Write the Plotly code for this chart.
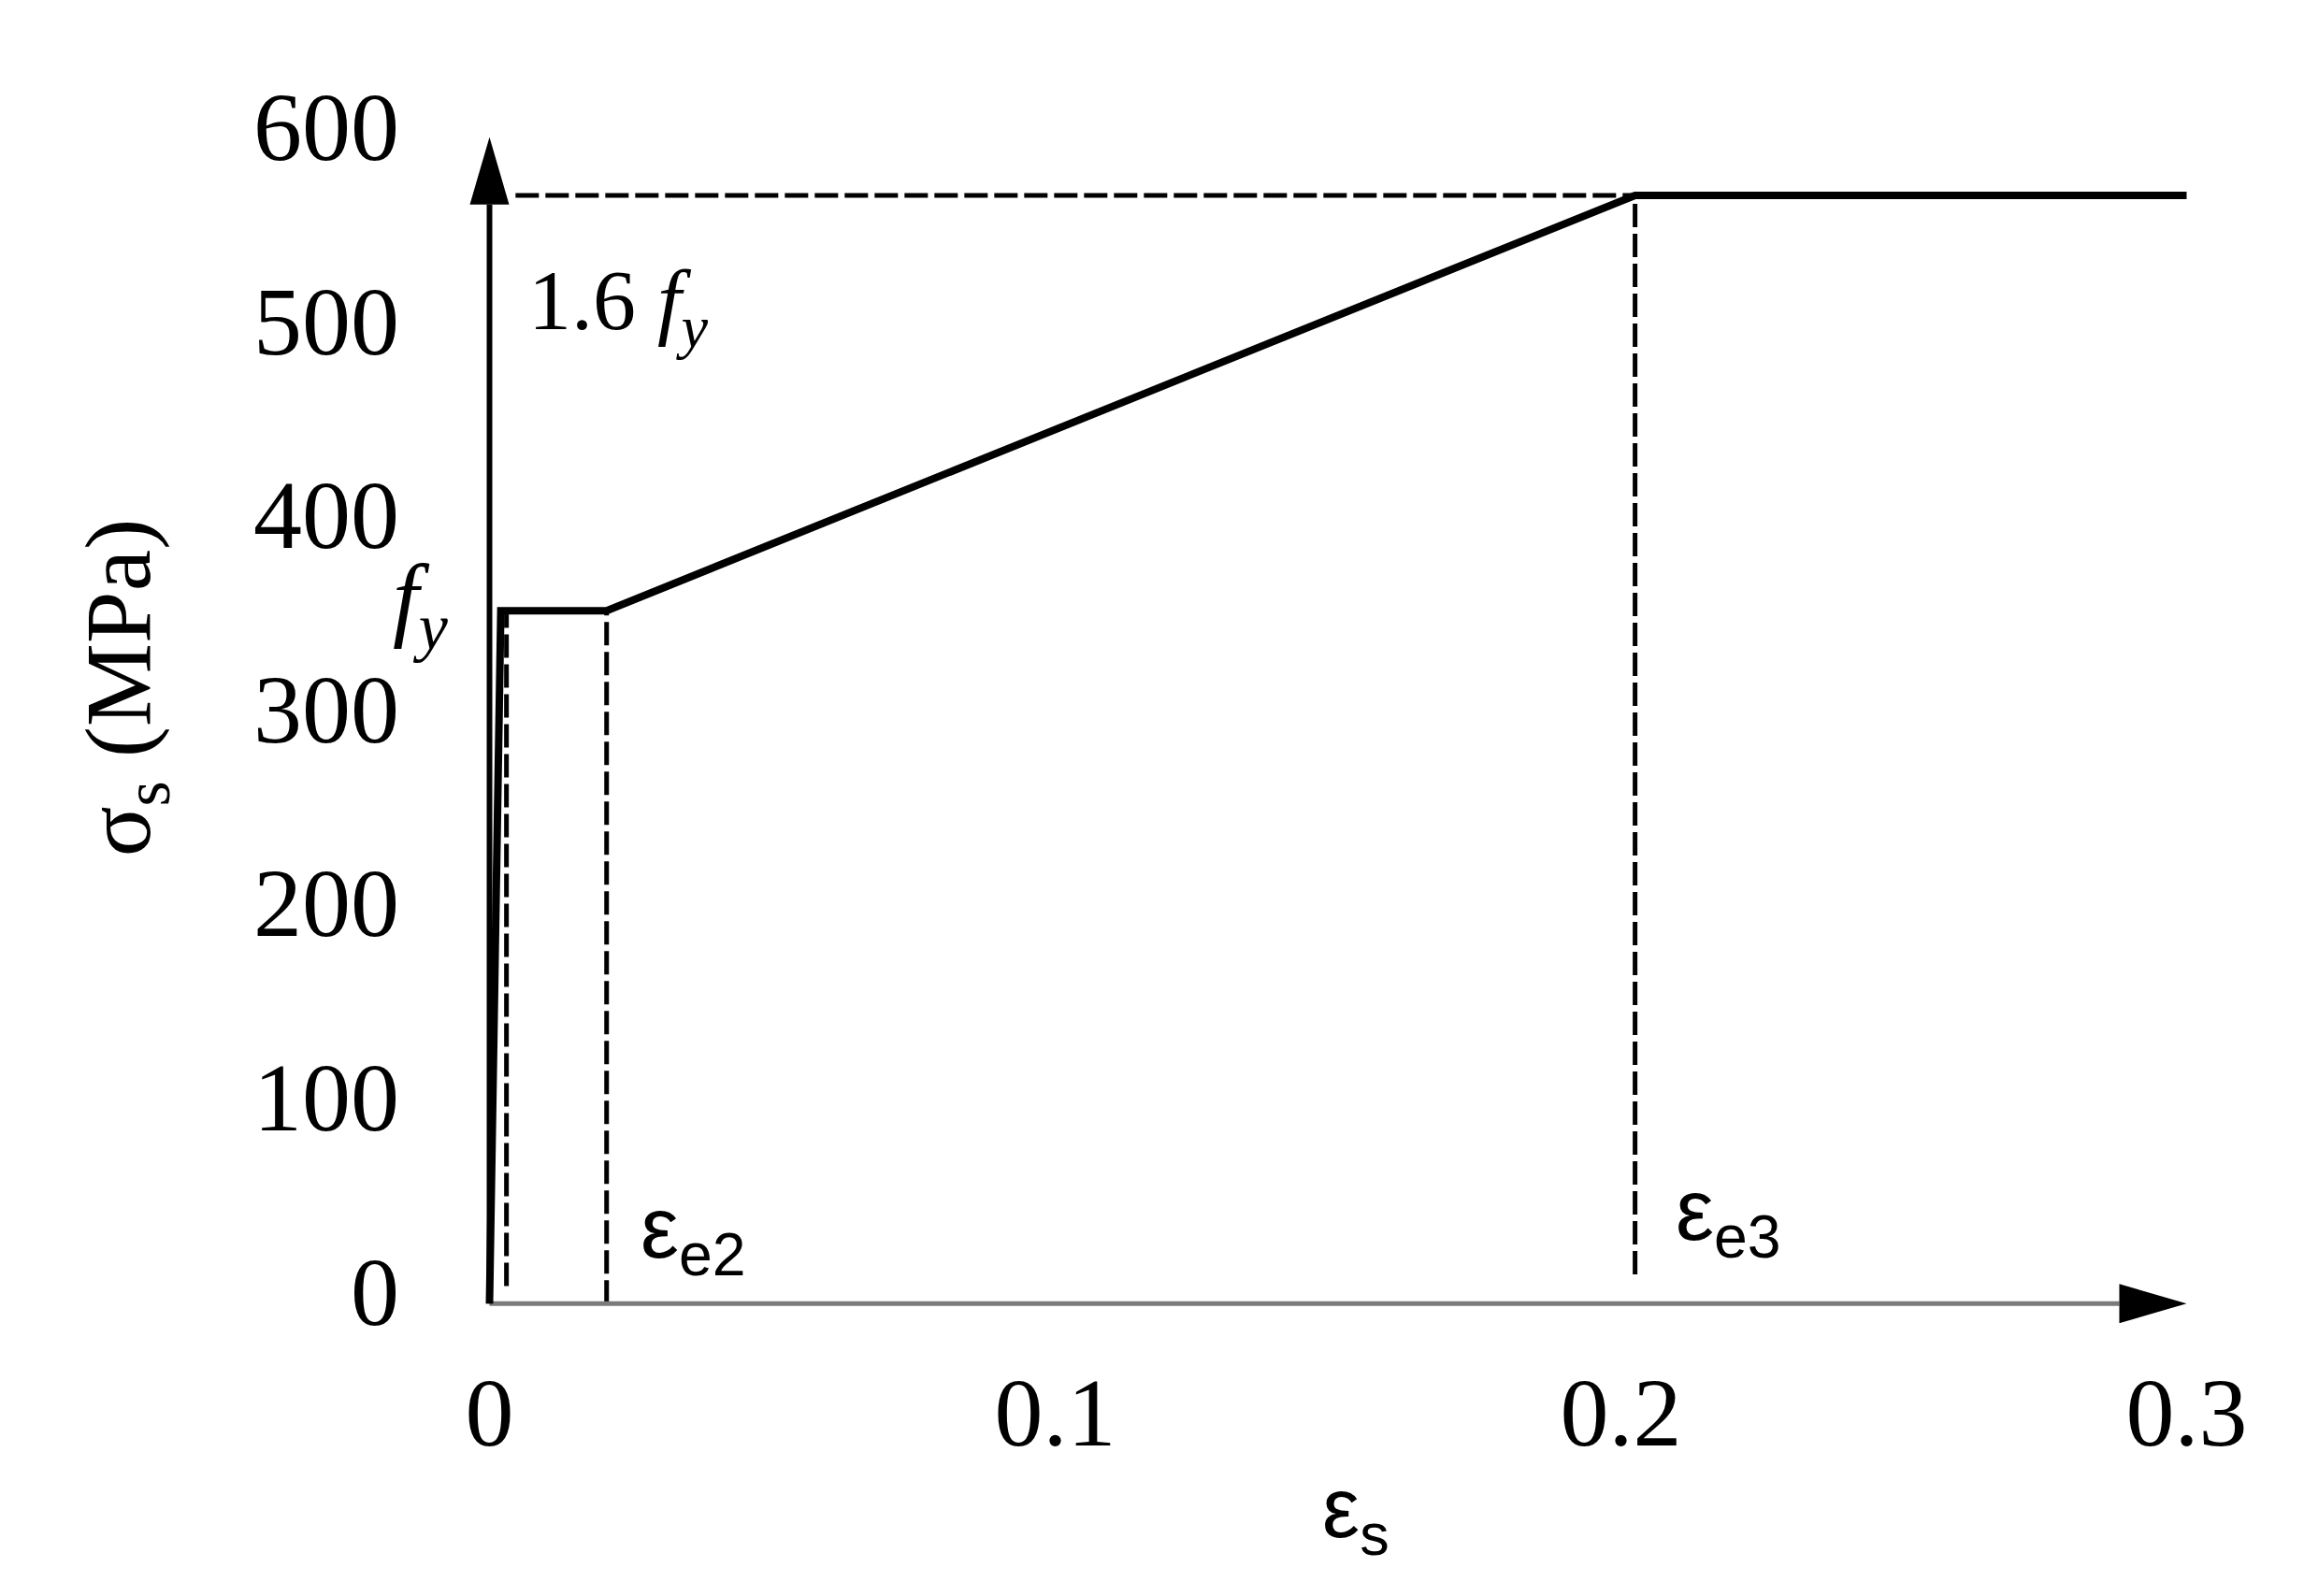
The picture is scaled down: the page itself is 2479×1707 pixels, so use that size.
import plotly.graph_objects as go

# Steel stress-strain model
strain = [0.0, 0.002, 0.0207, 0.2025, 0.30]
stress = [0, 357, 357, 571, 571]

# dashed guide lines
guide_strain = [0.003, 0.0207, 0.2025]
guide_top = [357, 357, 571]
guide_bottom = [9, 0, 15]
cap_strain = [0.0046, 0.2025]
cap_stress = [571, 571]

x_ticks = [0, 0.1, 0.2, 0.3]
x_tick_text = ["0", "0.1", "0.2", "0.3"]
y_ticks = [0, 100, 200, 300, 400, 500, 600]

x_axis_end = 0.30
y_axis_end = 601

W, H = 2479, 1707
ML, MR, MT, MB = 455, 88, 120, 300
X_RANGE = [-0.01, 0.31]
Y_RANGE = [-10, 610]

# pixels per data unit, used to size the arrow heads
px_x = (W - ML - MR) / (X_RANGE[1] - X_RANGE[0])
px_y = (H - MT - MB) / (Y_RANGE[1] - Y_RANGE[0])
HEAD_LEN, HEAD_HALF = 72, 21

SERIF = "Liberation Serif, Times New Roman, serif"
SANS = "Liberation Sans, Arial, sans-serif"

fig = go.Figure()

# ---- dashed guides ----
for xs, top, bot in zip(guide_strain, guide_top, guide_bottom):
    fig.add_trace(go.Scatter(
        x=[xs, xs], y=[bot, top], mode="lines",
        line=dict(color="black", width=5, dash="25px,7px"),
        hoverinfo="skip", showlegend=False,
    ))
fig.add_trace(go.Scatter(
    x=cap_strain, y=cap_stress, mode="lines",
    line=dict(color="black", width=5, dash="25px,7px"),
    hoverinfo="skip", showlegend=False,
))

# ---- axes drawn as arrows ----
y_base = y_axis_end - HEAD_LEN / px_y
x_base = x_axis_end - HEAD_LEN / px_x
fig.add_trace(go.Scatter(
    x=[0, x_base], y=[0, 0], mode="lines",
    line=dict(color="#7a7a7a", width=5),
    hoverinfo="skip", showlegend=False,
))
fig.add_trace(go.Scatter(
    x=[0, 0], y=[0, y_base], mode="lines",
    line=dict(color="black", width=6),
    hoverinfo="skip", showlegend=False,
))

# ---- main curve ----
fig.add_trace(go.Scatter(
    x=strain, y=stress, mode="lines",
    line=dict(color="black", width=8),
    hoverinfo="skip", showlegend=False,
))

# arrow heads
hx = HEAD_HALF / px_x
hy = HEAD_HALF / px_y
fig.add_trace(go.Scatter(
    x=[0, -hx, hx, 0], y=[y_axis_end, y_base, y_base, y_axis_end],
    mode="lines", fill="toself", fillcolor="black",
    line=dict(width=0, color="black"),
    hoverinfo="skip", showlegend=False,
))
fig.add_trace(go.Scatter(
    x=[x_axis_end, x_base, x_base, x_axis_end], y=[0, -hy, hy, 0],
    mode="lines", fill="toself", fillcolor="black",
    line=dict(width=0, color="black"),
    hoverinfo="skip", showlegend=False,
))

# labels inside the plot (data coords)
annotations = [
    dict(text="ε<sub>e2</sub>", x=0.0263, y=36, xanchor="left",
         font=dict(family=SANS, size=92, color="black")),
    dict(text="ε<sub>e3</sub>", x=0.2094, y=45, xanchor="left",
         font=dict(family=SANS, size=92, color="black")),
    dict(text="1.6 <i>f</i><sub><i>y</i></sub>", x=0.0065, y=514, xanchor="left",
         font=dict(family=SERIF, size=92, color="black")),
    dict(text="<i>f</i><sub><i>y</i></sub>", x=-0.0068, y=360, xanchor="right",
         font=dict(family=SERIF, size=100, color="black")),
]
for a in annotations:
    a.update(xref="x", yref="y", showarrow=False, yanchor="middle")

# axis titles (paper coords, outside the plot area)
annotations += [
    dict(text="σ<sub>s</sub> (MPa)", x=-0.17, y=0.528, textangle=-90,
         xref="paper", yref="paper", showarrow=False,
         xanchor="center", yanchor="middle",
         font=dict(family=SERIF, size=100, color="black")),
    dict(text="ε<sub>s</sub>", x=0.51, y=-0.159,
         xref="paper", yref="paper", showarrow=False,
         xanchor="center", yanchor="middle",
         font=dict(family=SANS, size=90, color="black")),
]

fig.update_layout(
    width=W, height=H,
    margin=dict(l=ML, r=MR, t=MT, b=MB),
    paper_bgcolor="white", plot_bgcolor="white",
    annotations=annotations,
    xaxis=dict(
        range=X_RANGE, tickvals=x_ticks, ticktext=x_tick_text,
        showgrid=False, zeroline=False, showline=False, ticks="",
        ticklabelstandoff=26,
        tickfont=dict(family=SERIF, size=104, color="black"),
    ),
    yaxis=dict(
        range=Y_RANGE, tickvals=y_ticks,
        showgrid=False, zeroline=False, showline=False, ticks="",
        ticklabelstandoff=35, ticklabelshift=-14,
        tickfont=dict(family=SERIF, size=104, color="black"),
    ),
)

fig.write_html("out.html")
